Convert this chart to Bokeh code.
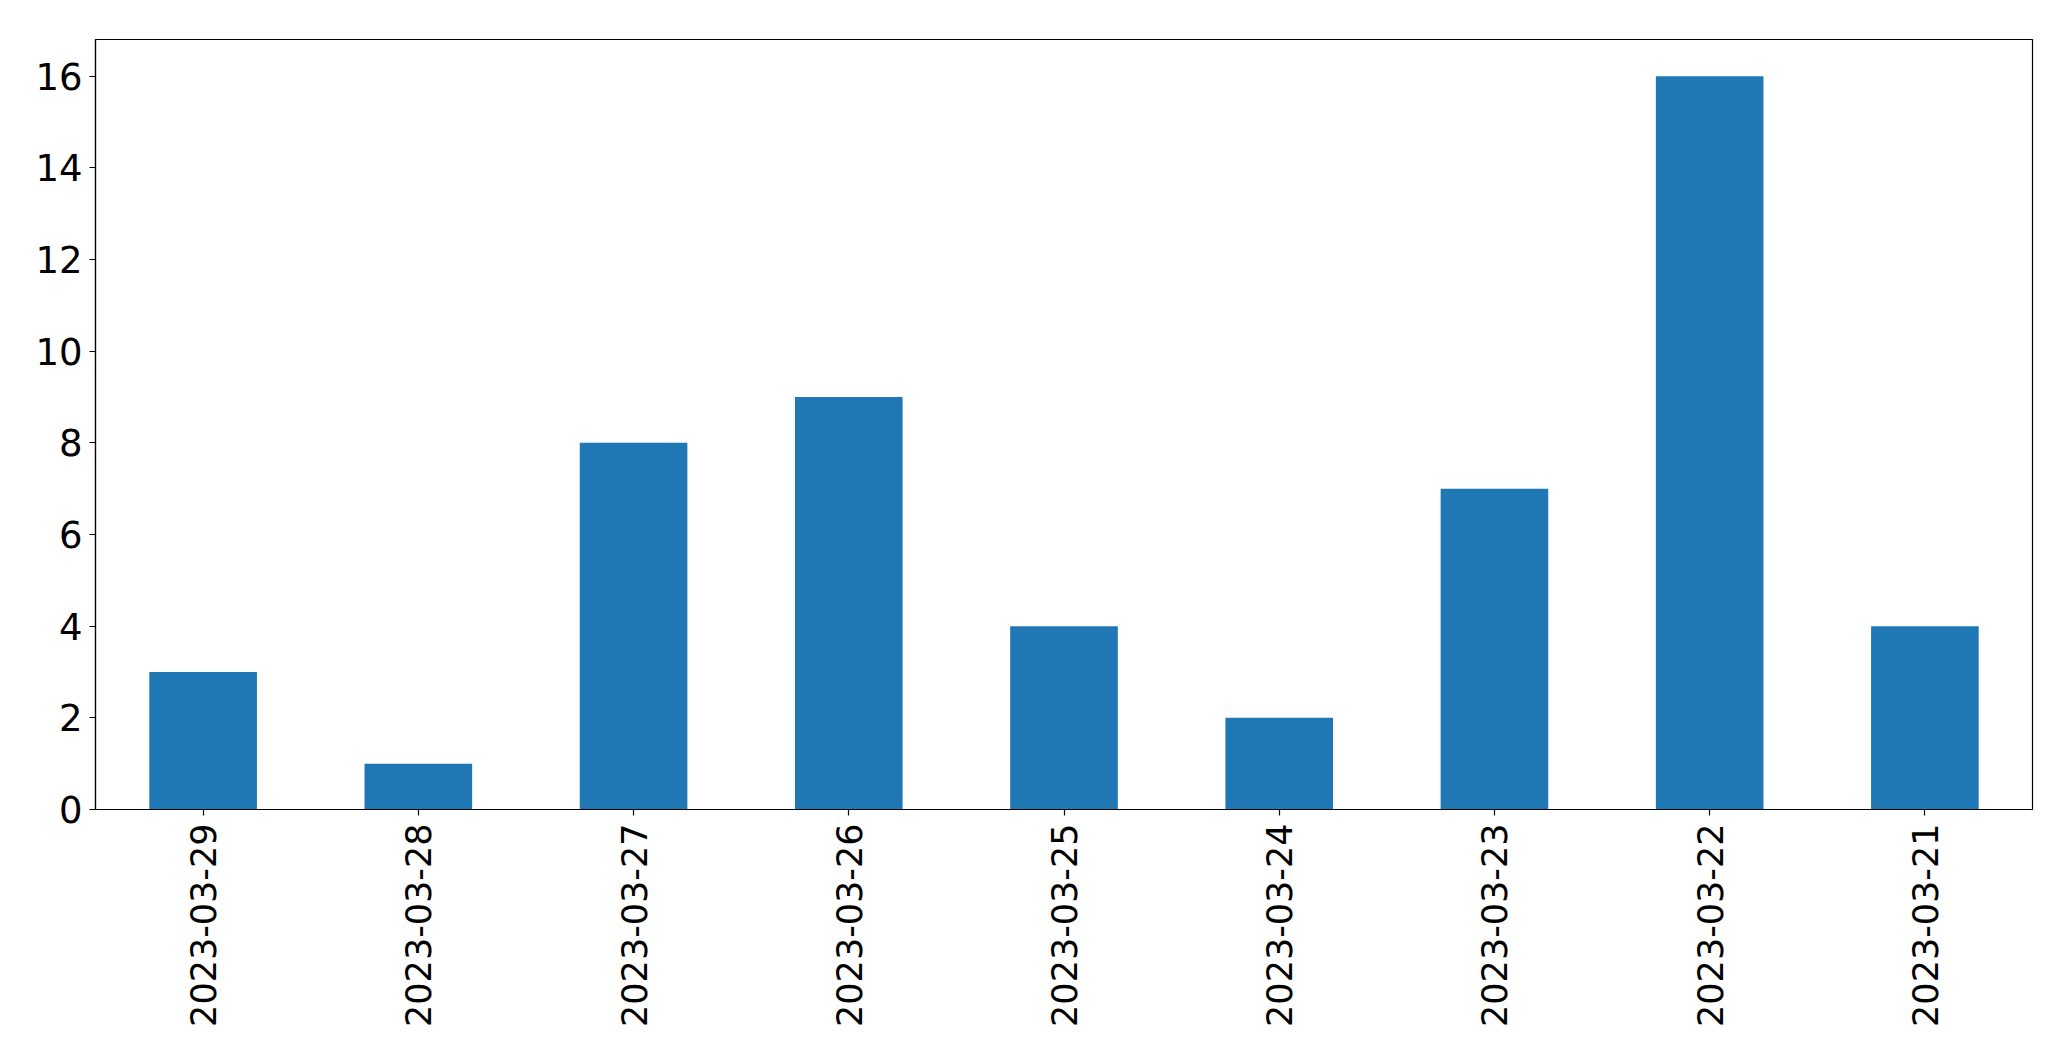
from bokeh.plotting import figure
from bokeh.models import FactorRange, Range1d, FixedTicker, ColumnDataSource
from bokeh.embed import file_html
from bokeh.resources import INLINE
import math

dates = ["2023-03-29", "2023-03-28", "2023-03-27", "2023-03-26", "2023-03-25",
         "2023-03-24", "2023-03-23", "2023-03-22", "2023-03-21"]
counts = [3, 1, 8, 9, 4, 2, 7, 16, 4]
y_ticks = [0, 2, 4, 6, 8, 10, 12, 14, 16]

src = ColumnDataSource(dict(x=dates, y=counts))

p = figure(width=2055, height=1045, output_backend="svg", toolbar_location=None,
           x_range=FactorRange(*dates, range_padding=0), y_range=Range1d(0, 16.8),
           min_border_left=95, min_border_top=39, min_border_right=23, min_border_bottom=236)

p.vbar(x="x", top="y", width=0.5, source=src, color="#1f77b4", line_color=None)

p.xgrid.visible = False
p.ygrid.visible = False
p.outline_line_color = "black"
p.outline_line_width = 1.2
p.outline_line_alpha = 1

for ax in (p.xaxis[0], p.yaxis[0]):
    ax.axis_line_color = "black"
    ax.axis_line_width = 1.2
    ax.major_tick_line_color = "black"
    ax.major_tick_line_width = 1.2
    ax.major_tick_out = 6
    ax.major_tick_in = 0
    ax.minor_tick_line_color = None
    ax.major_label_text_font = "DejaVu Sans"
    ax.major_label_text_color = "black"

p.yaxis[0].major_label_text_font_size = "37px"
p.xaxis[0].major_label_text_font_size = "35px"
p.yaxis[0].ticker = FixedTicker(ticks=y_ticks)
p.yaxis[0].major_label_standoff = 7
p.xaxis[0].major_label_orientation = math.pi / 2
p.xaxis[0].major_label_standoff = 8

open("out.html", "w").write(file_html(p, INLINE))
